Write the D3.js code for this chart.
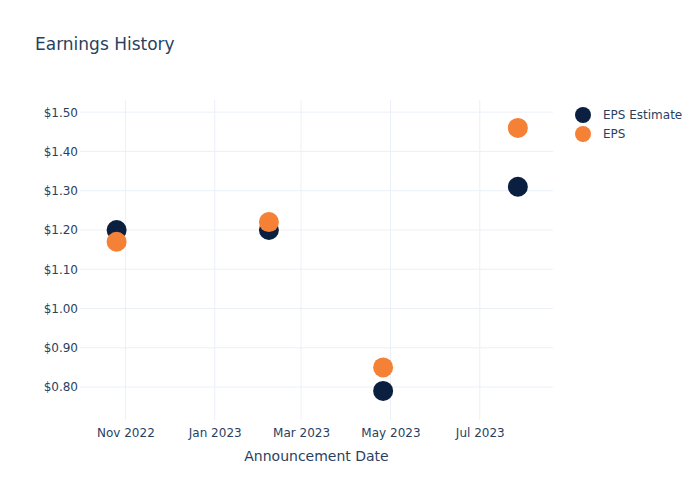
<!DOCTYPE html>
<html>
<head>
<meta charset="utf-8">
<script src="https://cdn.jsdelivr.net/npm/d3@7"></script>
<style>
body { margin: 0; background: #fff; }
svg { display: block; font-family: "DejaVu Sans", Verdana, sans-serif; }
</style>
</head>
<body>
<svg id="chart" width="700" height="500"></svg>
<script>
const dates = ["2022-10-26", "2023-02-07", "2023-04-26", "2023-07-27"];
const epsEstimate = [1.20, 1.20, 0.79, 1.31];
const eps = [1.17, 1.22, 0.85, 1.46];
const yTicks = [0.80, 0.90, 1.00, 1.10, 1.20, 1.30, 1.40, 1.50];
const xTicks = ["2022-11-01", "2023-01-01", "2023-03-01", "2023-05-01", "2023-07-01"];
const seriesNames = ["EPS Estimate", "EPS"];
const colors = ["#0b1f41", "#f58137"];

(function () {
const parse = d3.utcParse("%Y-%m-%d");
const svg = d3.select("#chart");
const pLeft = 80, pRight = 553, pTop = 100, pBottom = 420;
const textColor = "#2a3f5f";
const gridColor = "#ebf0f8";

const x = d3.scaleUtc().domain([parse("2022-10-01"), parse("2023-08-20")]).range([pLeft, pRight]);
const y = d3.scaleLinear().domain([0.716, 1.531]).range([pBottom, pTop]);

// gridlines
svg.append("g").selectAll("line").data(xTicks).join("line")
  .attr("x1", d => x(parse(d))).attr("x2", d => x(parse(d)))
  .attr("y1", pTop).attr("y2", pBottom)
  .attr("stroke", gridColor).attr("stroke-width", 1);
svg.append("g").selectAll("line").data(yTicks).join("line")
  .attr("x1", pLeft).attr("x2", pRight)
  .attr("y1", d => y(d)).attr("y2", d => y(d))
  .attr("stroke", gridColor).attr("stroke-width", 1);

// axes
const xAxis = d3.axisBottom(x).tickValues(xTicks.map(parse))
  .tickFormat(d3.utcFormat("%b %Y")).tickSize(0).tickPadding(8);
const gx = svg.append("g").attr("transform", `translate(0,${pBottom})`).call(xAxis);
gx.select(".domain").remove();
gx.selectAll("text").attr("fill", textColor).attr("font-size", 12)
  .attr("font-family", "DejaVu Sans, sans-serif");

const yAxis = d3.axisLeft(y).tickValues(yTicks)
  .tickFormat(d => "$" + d.toFixed(2)).tickSize(0).tickPadding(2);
const gy = svg.append("g").attr("transform", `translate(${pLeft},0)`).call(yAxis);
gy.select(".domain").remove();
gy.selectAll("text").attr("fill", textColor).attr("font-size", 12)
  .attr("font-family", "DejaVu Sans, sans-serif");

// points
const series = [epsEstimate, eps];
series.forEach((vals, si) => {
  svg.append("g").selectAll("circle").data(vals).join("circle")
    .attr("cx", (d, i) => x(parse(dates[i])))
    .attr("cy", d => y(d))
    .attr("r", 10)
    .attr("fill", colors[si]);
});

// title
svg.append("text").attr("x", 35).attr("y", 50)
  .attr("font-size", 17).attr("fill", textColor).text("Earnings History");

// x axis title
svg.append("text").attr("x", (pLeft + pRight) / 2).attr("y", 461)
  .attr("text-anchor", "middle").attr("font-size", 14).attr("fill", textColor)
  .text("Announcement Date");

// legend
const lg = svg.append("g");
seriesNames.forEach((name, i) => {
  const ly = 115 + i * 19;
  lg.append("circle").attr("cx", 583).attr("cy", ly).attr("r", 8).attr("fill", colors[i]);
  lg.append("text").attr("x", 603).attr("y", ly + 4).attr("font-size", 12)
    .attr("fill", textColor).text(name);
});
})();
</script>
</body>
</html>
